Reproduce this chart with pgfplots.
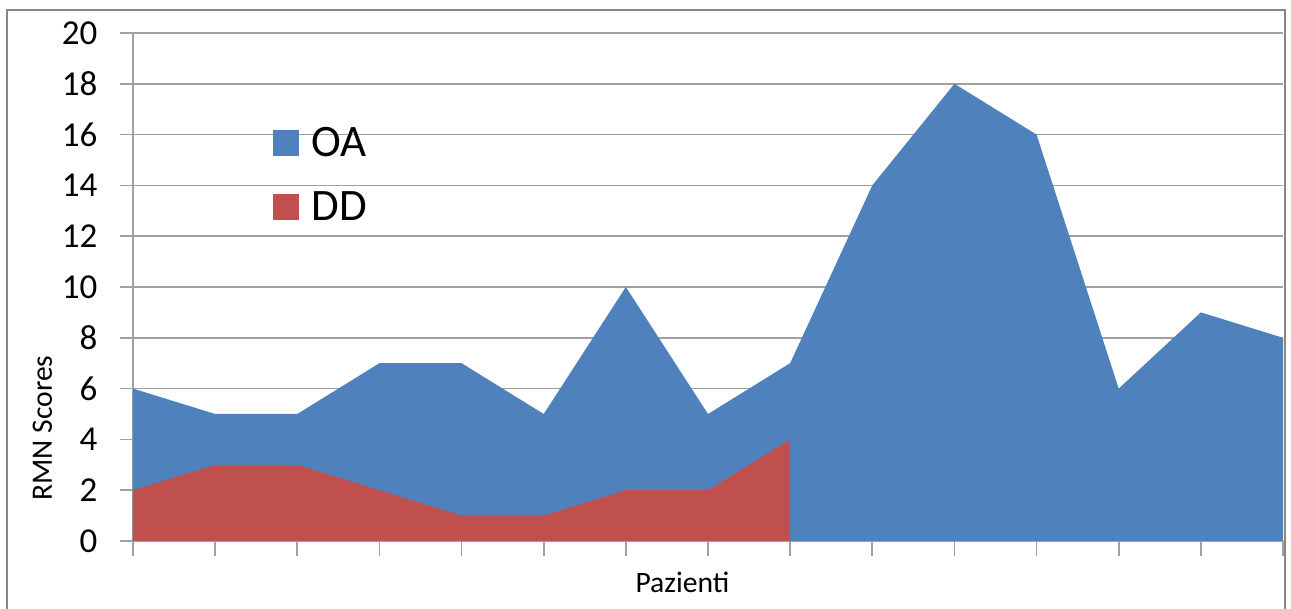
\documentclass[border=0pt]{standalone}
\usepackage{fontspec}
\setmainfont{Carlito}
\usepackage{pgfplots}
\pgfplotsset{compat=1.18}

\definecolor{oablue}{HTML}{4F81BD}
\definecolor{ddred}{HTML}{C0504D}
\definecolor{gridgray}{HTML}{A0A0A0}
\definecolor{framegray}{HTML}{878787}

\begin{document}
\begin{tikzpicture}
\begin{axis}[
  scale only axis,
  width=575pt, height=254pt,
  xmin=0, xmax=14, ymin=0, ymax=20,
  axis x line*=bottom, axis y line*=left,
  axis line style={gridgray, line width=0.8pt, -},
  xtick={0,...,14}, xticklabels={},
  ytick={0,2,...,20},
  tick align=outside,
  tick style={gridgray, line width=0.8pt},
  xtick style={/pgfplots/major tick length=7.5pt},
  ytick style={/pgfplots/major tick length=6.5pt},
  ymajorgrids,
  major grid style={gridgray, line width=0.8pt},
  /pgf/number format/assume math mode=true,
  ticklabel style={font=\fontsize{17.5}{21}\selectfont},
  yticklabel style={xshift=-10pt},
  xlabel={Pazienti}, ylabel={RMN Scores},
  label style={font=\fontsize{14.8}{17}\selectfont},
  xlabel style={at={(rel axis cs:0.4778,-0.10236)}, anchor=base},
  ylabel style={at={(rel axis cs:-0.07043,0.2224)}, anchor=base},
  legend style={at={(rel axis cs:0.1217,0.8209)}, anchor=north west,
    draw=none, fill=none, inner sep=0pt, row sep=16pt,
    font=\fontsize{22.5}{26}\selectfont,
    nodes={inner sep=0pt, text height=16pt, text depth=0pt, anchor=base west}},
  legend cell align=left,
  legend image code/.code={\fill[#1] (0pt,0pt) rectangle (13pt,13pt);},
]
% OA scores, drawn first so that DD lies in front
\addplot[fill=oablue, draw=none] coordinates {
  (0,6) (1,5) (2,5) (3,7) (4,7) (5,5) (6,10) (7,5)
  (8,7) (9,14) (10,18) (11,16) (12,6) (13,9) (14,8)
} \closedcycle;
\addlegendentry{\hspace{6pt}OA}
% DD scores, recorded for the first nine patients only
\addplot[fill=ddred, draw=none] coordinates {
  (0,2) (1,3) (2,3) (3,2) (4,1) (5,1) (6,2) (7,2) (8,4)
} \closedcycle;
\addlegendentry{\hspace{6pt}DD}
\end{axis}
\draw[framegray, line width=1.2pt] (-63pt,-50pt) rectangle (576pt,265.5pt);
\pgfresetboundingbox
\useasboundingbox (-66.5pt,-34pt) rectangle (579pt,270.5pt);
\end{tikzpicture}
\end{document}
